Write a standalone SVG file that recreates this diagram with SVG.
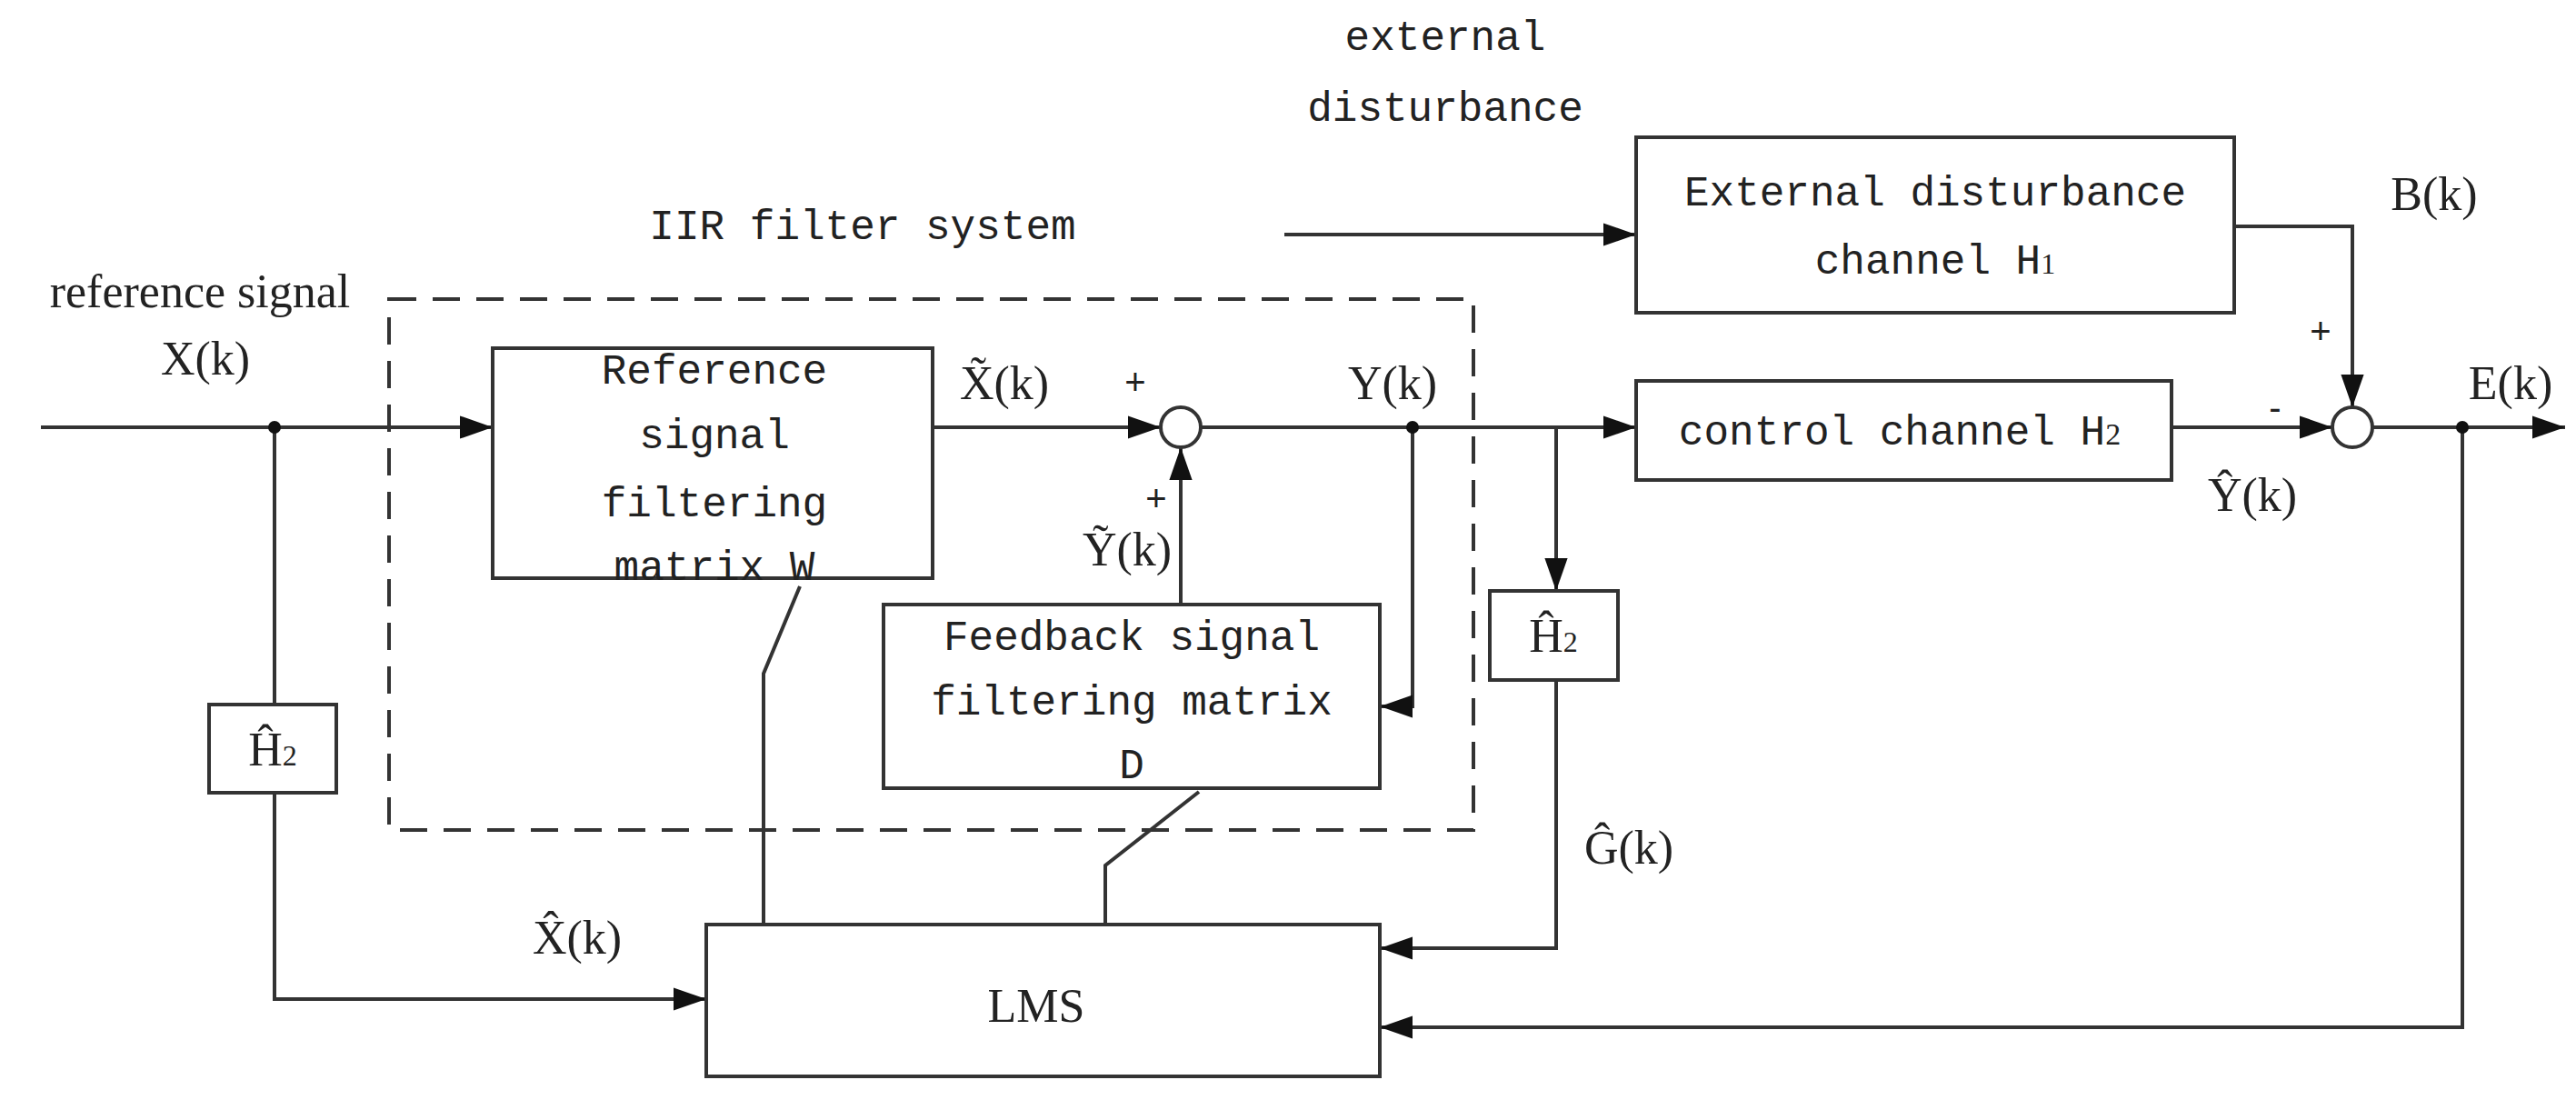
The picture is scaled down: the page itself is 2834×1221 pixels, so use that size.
<svg xmlns="http://www.w3.org/2000/svg" width="2834" height="1221" viewBox="0 0 2834 1221">
<style>
.b{fill:#fff;stroke:#333;stroke-width:4}
.w{fill:none;stroke:#333;stroke-width:4}
.m{font-family:"Liberation Mono",monospace;font-size:46px;fill:#222}
.s{font-family:"Liberation Serif",serif;font-size:52px;fill:#222}
.p{font-family:"Liberation Sans",sans-serif;font-size:40px;fill:#222}
</style>
<defs>
<marker id="A" viewBox="0 0 10 10" refX="10" refY="5" markerWidth="9" markerHeight="9" orient="auto"><path d="M0,1.5L10,5L0,8.5z" fill="#111"/></marker></defs>
<rect x="0" y="0" width="2834" height="1221" fill="#fff"/>
<rect x="428" y="329" width="1193" height="584" fill="none" stroke="#333" stroke-width="4" stroke-dasharray="30,18"/>
<g id="connectors">
<path class="w" d="M45,470H542" marker-end="url(#A)"/>
<path class="w" d="M1026,470H1277" marker-end="url(#A)"/>
<path class="w" d="M1321,470H1800" marker-end="url(#A)"/>
<path class="w" d="M1299,665V492" marker-end="url(#A)"/>
<path class="w" d="M1554,470V777H1518" marker-end="url(#A)"/>
<path class="w" d="M1712,470V650" marker-end="url(#A)"/>
<path class="w" d="M1712,748V1043H1518" marker-end="url(#A)"/>
<path class="w" d="M302,470V775"/>
<path class="w" d="M302,872V1099H777" marker-end="url(#A)"/>
<path class="w" d="M880,645L840,741V1017"/>
<path class="w" d="M1319,871L1216,952V1017"/>
<path class="w" d="M2389,470H2566" marker-end="url(#A)"/>
<path class="w" d="M1413,258H1800" marker-end="url(#A)"/>
<path class="w" d="M2458,249H2588V448" marker-end="url(#A)"/>
<path class="w" d="M2610,470H2822" marker-end="url(#A)"/>
<path class="w" d="M2709,470V1130H1518" marker-end="url(#A)"/>
<circle cx="302" cy="470" r="7" fill="#111"/>
<circle cx="1554" cy="470" r="7" fill="#111"/>
<circle cx="2709" cy="470" r="7" fill="#111"/>
</g>
<g id="sum1"><circle class="b" cx="1299" cy="470" r="22"/></g>
<g id="sum2"><circle class="b" cx="2588" cy="470" r="22"/></g>
<g id="refbox"><rect class="b" x="542" y="383" width="484" height="253"/>
<text class="m" text-anchor="middle" x="786" y="422">Reference</text>
<text class="m" text-anchor="middle" x="786" y="493">signal</text>
<text class="m" text-anchor="middle" x="786" y="568">filtering</text>
<text class="m" text-anchor="middle" x="786" y="638">matrix W</text></g>
<g id="fbbox"><rect class="b" x="972" y="665" width="546" height="202"/>
<text class="m" text-anchor="middle" x="1245" y="715">Feedback signal</text>
<text class="m" text-anchor="middle" x="1245" y="786">filtering matrix</text>
<text class="m" text-anchor="middle" x="1245" y="856">D</text></g>
<g id="h2l"><rect class="b" x="230" y="775" width="140" height="97"/><text class="s" text-anchor="middle" x="300" y="842">Ĥ<tspan font-size="32">2</tspan></text></g>
<g id="h2r"><rect class="b" x="1639" y="650" width="141" height="98"/><text class="s" text-anchor="middle" x="1709" y="717">Ĥ<tspan font-size="32">2</tspan></text></g>
<g id="lms"><rect class="b" x="777" y="1017" width="741" height="167"/><text class="s" text-anchor="middle" x="1140" y="1124" font-size="64">LMS</text></g>
<g id="ctrl"><rect class="b" x="1800" y="419" width="589" height="109"/><text class="m" text-anchor="middle" x="2090" y="489">control channel H<tspan font-family="Liberation Serif" font-size="34">2</tspan></text></g>
<g id="ext"><rect class="b" x="1800" y="151" width="658" height="193"/>
<text class="m" text-anchor="middle" x="2129" y="226">External disturbance</text>
<text class="m" text-anchor="middle" x="2129" y="301">channel H<tspan font-family="Liberation Serif" font-size="32">1</tspan></text></g>
<g id="labels">
<text class="m" text-anchor="middle" x="1590" y="55">external</text>
<text class="m" text-anchor="middle" x="1590" y="133">disturbance</text>
<text class="m" text-anchor="middle" x="949" y="263">IIR filter system</text>
<text class="s" text-anchor="middle" x="220" y="338">reference signal</text>
<text class="s" text-anchor="middle" x="226" y="412">X(k)</text>
<text class="s" text-anchor="middle" x="1105" y="439">X̃(k)</text>
<text class="p" text-anchor="middle" x="1249" y="434">+</text>
<text class="p" text-anchor="middle" x="1272" y="562">+</text>
<text class="s" text-anchor="middle" x="1240" y="622">Ỹ(k)</text>
<text class="s" text-anchor="middle" x="1532" y="439">Y(k)</text>
<text class="s" text-anchor="middle" x="635" y="1049">X̂(k)</text>
<text class="s" text-anchor="middle" x="1792" y="950">Ĝ(k)</text>
<text class="s" text-anchor="middle" x="2678" y="231">B(k)</text>
<text class="p" text-anchor="middle" x="2553" y="378">+</text>
<text class="p" text-anchor="middle" x="2503" y="462">-</text>
<text class="s" text-anchor="middle" x="2478" y="562">Ŷ(k)</text>
<text class="s" text-anchor="middle" x="2762" y="439">E(k)</text>
</g>
</svg>
